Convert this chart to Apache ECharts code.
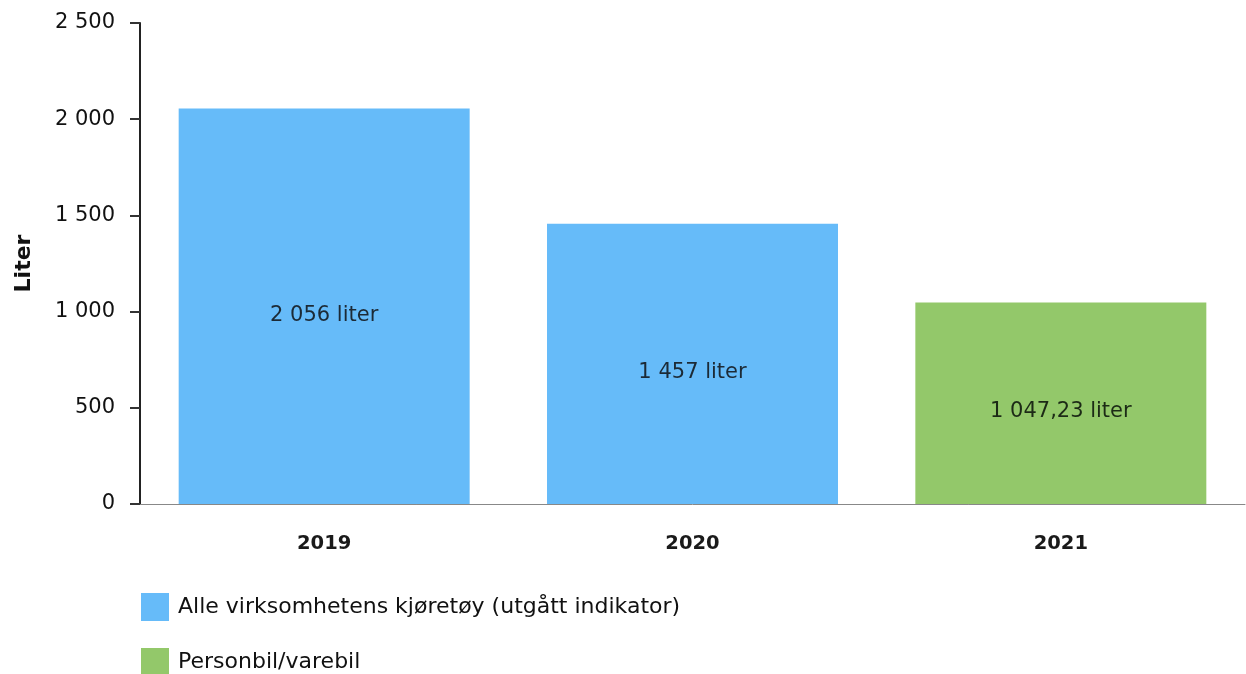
<!DOCTYPE html>
<html>
<head>
<meta charset="utf-8">
<script src="https://cdn.jsdelivr.net/npm/echarts@6/dist/echarts.min.js"></script>
<style>html,body{margin:0;padding:0;background:#fff}#c{width:1246px;height:674px}</style>
</head>
<body>
<div id="c"></div>
<script>
var categories = ['2019', '2020', '2021'];
var seriesNames = ['Alle virksomhetens kjøretøy (utgått indikator)', 'Personbil/varebil'];
var allVehicles = [2056, 1457, null];
var carVan = [null, null, 1047.23];
var yTicks = [0, 500, 1000, 1500, 2000, 2500];

function fmt(v) {
  var s = String(v).split('.');
  var i = s[0].replace(/\B(?=(\d{3})+(?!\d))/g, ' ');
  return s.length > 1 ? i + ',' + s[1] : i;
}

var font = 'DejaVu Sans, Verdana, sans-serif';
function legendAt(name, top) {
  return {
    orient: 'vertical', left: 136, top: top,
    itemWidth: 28, itemHeight: 28,
    icon: 'rect',
    textStyle: { fontFamily: font, fontSize: 22, color: '#111', padding: [0, 0, 0, 4] },
    data: [name]
  };
}
var chart = echarts.init(document.getElementById('c'));
chart.setOption({
  animation: false,
  grid: { left: 140, right: 1, top: 23, bottom: 170 },
  legend: [legendAt(seriesNames[0], 588), legendAt(seriesNames[1], 643)],
  xAxis: {
    type: 'category', data: categories,
    axisLine: { lineStyle: { color: '#888', width: 1 } },
    axisTick: { alignWithLabel: true, length: 10, lineStyle: { color: '#888' } },
    axisLabel: { margin: 30, fontFamily: font, fontSize: 19.5, fontWeight: 'bold', color: '#1a1a1a' }
  },
  yAxis: {
    type: 'value', min: yTicks[0], max: yTicks[yTicks.length - 1], interval: 500,
    name: 'Liter', nameLocation: 'middle', nameGap: 105,
    nameTextStyle: { fontFamily: font, fontSize: 22, fontWeight: 'bold', color: '#111' },
    axisLine: { show: true, lineStyle: { color: '#222', width: 2 } },
    axisTick: { show: true, length: 10, lineStyle: { color: '#333', width: 2 } },
    splitLine: { show: false },
    axisLabel: { margin: 25, fontFamily: font, fontSize: 21, color: '#111', formatter: fmt }
  },
  series: [
    {
      name: seriesNames[0], type: 'bar', stack: 's', barWidth: '79%',
      data: allVehicles,
      itemStyle: { color: '#66bbf9' },
      label: { show: true, position: 'inside', offset: [0, 9], fontFamily: font, fontSize: 21, color: '#1c2a36',
        formatter: function (p) { return fmt(p.value) + ' liter'; } }
    },
    {
      name: seriesNames[1], type: 'bar', stack: 's', barWidth: '79%',
      data: carVan,
      itemStyle: { color: '#93c86a' },
      label: { show: true, position: 'inside', offset: [0, 8], fontFamily: font, fontSize: 21, color: '#1c2a16',
        formatter: function (p) { return fmt(p.value) + ' liter'; } }
    }
  ]
});
</script>
</body>
</html>
